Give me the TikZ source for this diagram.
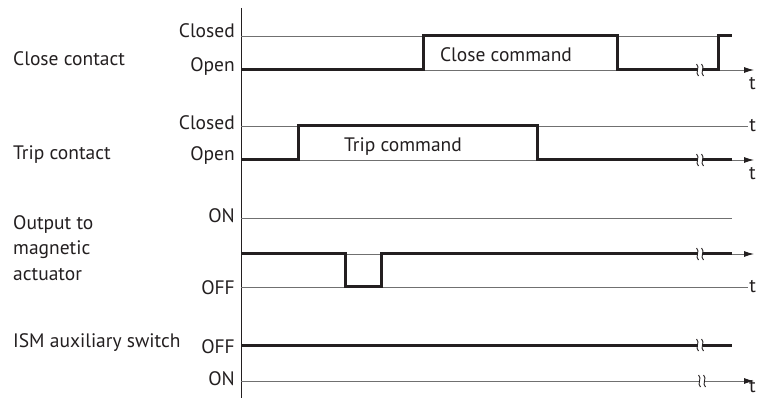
\documentclass[tikz,border=0pt]{standalone}
\usepackage{fontspec}
\setmainfont{PT Sans}
\usepackage{xcolor}
\usetikzlibrary{arrows.meta, positioning}

\definecolor{sigcol}{HTML}{231F20}
\definecolor{gridcol}{HTML}{707070}

\tikzset{
  txt/.style={font=\fontsize{19.5}{25.5}\selectfont, inner sep=0pt, text=sigcol},
  lvl/.style={txt, anchor=base east},
  sig/.style={txt, anchor=base west, align=left},
  tlab/.style={txt, anchor=base west},
  thinline/.style={gridcol, line width=0.9pt},
  wave/.style={sigcol, line width=3pt, line join=miter},
  taxis/.style={thinline, -{Latex[length=10pt,width=6pt,color=sigcol]}},
  gap/.pic={
    \fill[white] (-2.5,-3.5) rectangle (2.5,3.5);
    \foreach \dx in {-2.5,2.5}
      \draw[sigcol, line width=0.9pt] (\dx-1,-6) .. controls (\dx+3,-3) and (\dx-3,3) .. (\dx+1,6);
  }
}

\begin{document}
\begin{tikzpicture}[x=1pt, y=-1pt]
\useasboundingbox (0,0) rectangle (761,398);

% vertical axis
\draw[sigcol, line width=1pt] (241,8) -- (241,398);

% Close contact
\node[sig] (closesig) at (13,66) {Close contact};
\node[lvl] (closehi) at (235,38) {Closed};
\node[lvl] (closelo) at (235,72) {Open};
\draw[thinline] (241,36) -- (718,36);
\draw[taxis] (241,70) -- (754,70);
\draw[wave] (241,70) -- (423,70) -- (423,36) -- (617,36) -- (617,70) -- (718,70) -- (718,36) -- (732,36);
\pic at (700,70) {gap};
\node[txt, anchor=base] (closecmd) at (506,62) {Close command};
\node[tlab] (tclose) at (749,90) {t};

% Trip contact
\node[sig] (tripsig) at (13,160) {Trip contact};
\node[lvl] (triphi) at (235,130) {Closed};
\node[lvl] (triplo) at (235,161) {Open};
\draw[thinline] (241,126) -- (748,126) node[txt, anchor=west, inner sep=1pt] (ttriphi) {t};
\draw[taxis] (241,160) -- (754,160);
\draw[wave] (241,160) -- (298,160) -- (298,126) -- (537,126) -- (537,160) -- (732,160);
\pic at (700,160) {gap};
\node[txt, anchor=base] (tripcmd) at (403,152) {Trip command};
\node[tlab] (ttrip) at (749,180) {t};

% Output to magnetic actuator
\node[sig, anchor=north west] (outsig) at (13,215) {Output to\\magnetic\\actuator};
\node[lvl] (outon) at (235,223) {ON};
\node[lvl] (outoff) at (235,295) {OFF};
\draw[thinline] (241,218) -- (732,218);
\draw[thinline] (241,287) -- (748,287) node[txt, anchor=west, inner sep=1pt] (toutoff) {t};
\draw[taxis] (241,254) -- (754,254);
\draw[wave] (241,254) -- (345,254) -- (345,287) -- (381,287) -- (381,254) -- (732,254);
\pic at (700,254) {gap};

% ISM auxiliary switch
\node[sig] (ismsig) at (13,348) {ISM auxiliary switch};
\node[lvl] (ismoff) at (235,353) {OFF};
\node[lvl] (ismon) at (235,385) {ON};
\draw[wave] (241,345) -- (732,345);
\pic at (700,345) {gap};
\draw[taxis] (241,381) -- (754,381);
\pic at (702,381) {gap};
\node[tlab] (tism) at (749,392) {t};

\end{tikzpicture}
\end{document}
